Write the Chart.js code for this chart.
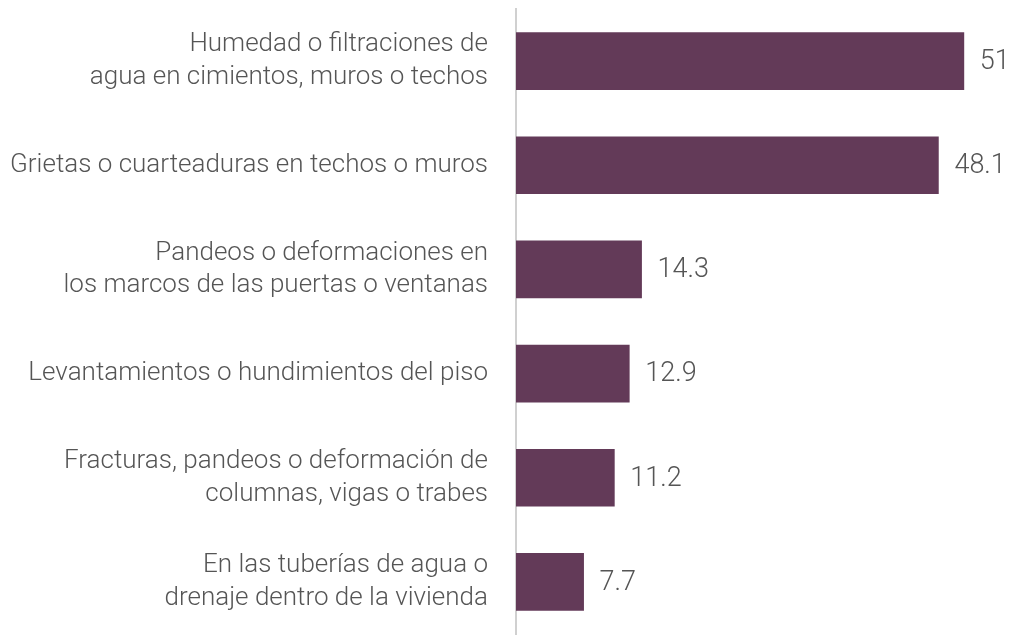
<!DOCTYPE html>
<html>
<head>
<meta charset="utf-8">
<script src="https://cdn.jsdelivr.net/npm/chart.js@4"></script>
<style>
  html, body { margin: 0; padding: 0; background: #fff; overflow: hidden; }
  canvas { display: block; }
</style>
</head>
<body>
<canvas id="chart1" width="1011" height="639"></canvas>
<script>
// categories (multi-line labels) and values
const categories = [
    ['Humedad o filtraciones de', 'agua en cimientos, muros o techos'],
    'Grietas o cuarteaduras en techos o muros',
    ['Pandeos o deformaciones en', 'los marcos de las puertas o ventanas'],
    'Levantamientos o hundimientos del piso',
    ['Fracturas, pandeos o deformación de', 'columnas, vigas o trabes'],
    ['En las tuberías de agua o', 'drenaje dentro de la vivienda']
];
const values = [51, 48.1, 14.3, 12.9, 11.2, 7.7];
const valueLabels = ['51', '48.1', '14.3', '12.9', '11.2', '7.7'];

// draw the number at the end of each bar
const barValues = {
    id: 'barValues',
    afterDatasetsDraw(chart) {
        const ctx = chart.ctx;
        const meta = chart.getDatasetMeta(0);
        ctx.save();
        ctx.font = '300 27px Roboto';
        ctx.fillStyle = '#555555';
        ctx.textAlign = 'left';
        ctx.textBaseline = 'middle';
        meta.data.forEach((bar, i) => {
            ctx.fillText(valueLabels[i], bar.x + 16, bar.y + 1);
        });
        ctx.restore();
    }
};

new Chart(
    document.getElementById('chart1'),
    {
        type: 'bar',
        data: {
            labels: categories,
            datasets: [{
                data: values,
                backgroundColor: '#633a58',
                barThickness: 57
            }]
        },
        options: {
            indexAxis: 'y',
            responsive: false,
            animation: false,
            layout: { padding: { top: 9, right: 12, bottom: 5, left: 10 } },
            plugins: {
                legend: { display: false },
                tooltip: { enabled: false }
            },
            scales: {
                x: {
                    display: false,
                    min: 0,
                    max: 55
                },
                y: {
                    grid: { display: false, drawTicks: false },
                    border: { color: '#d0d0d0', width: 2 },
                    ticks: {
                        color: '#555555',
                        padding: 28,
                        font: { family: 'Roboto', size: 26, weight: 300, lineHeight: 1.25 }
                    },
                    // fixed label column, no extra label padding top/bottom
                    afterFit(scale) {
                        scale.width = 506;
                        scale.paddingTop = 0;
                        scale.paddingBottom = 0;
                    }
                }
            }
        },
        plugins: [barValues]
    }
);
</script>
</body>
</html>
